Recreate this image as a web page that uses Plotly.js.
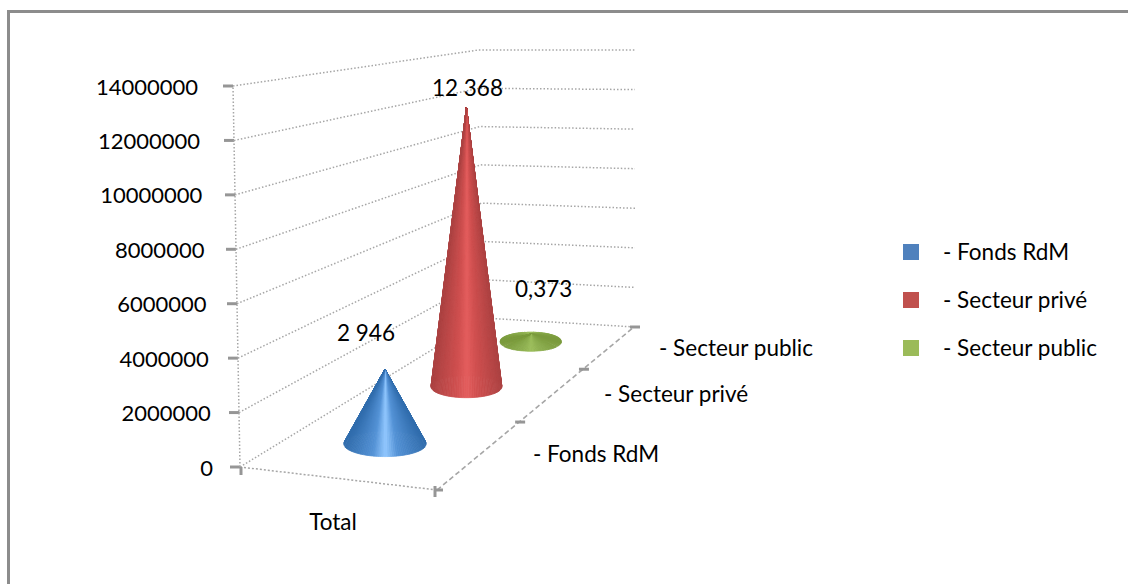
<!DOCTYPE html>
<html><head><meta charset="utf-8">
<script src="https://cdn.plot.ly/plotly-3.0.1.min.js"></script>
<style>html,body{margin:0;padding:0;background:#fff}#c{width:1128px;height:584px}</style>
</head><body><div id="c"></div>
<script>
// ---- data ----
const seriesNames = ['- Fonds RdM', '- Secteur privé', '- Secteur public'];
const seriesValues = [2946000, 12368000, 373000];
const dataLabels = ['2 946', '12 368', '0,373'];
const seriesColors = ['#4F81BD', '#C0504D', '#9BBB59'];
const valueTicks = [0, 2000000, 4000000, 6000000, 8000000, 10000000, 12000000, 14000000];
const categoryName = 'Total';

// ---- page geometry of the 3D box (pixels), not data ----
const W = 1128, H = 584, vMax = 14000000;
const zeroPx = 467, pxPerUnit = 381 / vMax;
const toAxis = p => (zeroPx - p) / pxPerUnit;
const yRange = [toAxis(H), toAxis(0)];
const K = 1.43; // perspective of the depth axis
const persp = w => w * K / (1 + (K - 1) * w);
const lerp = (a, b, t) => a + (b - a) * t;
const floor = {A: [240, 467], B: [437, 490], C: [634, 327], D: [484, 318]};
const backH = {D: 268, C: 277};
const font = 'Lato, Carlito, sans-serif';
const fs = 22.5;

function leftWall(v) { return [240 - 7 * v / vMax, zeroPx - v * pxPerUnit]; }
function midWall(v) { return [484 - 6 * v / vMax, floor.D[1] - backH.D * v / vMax]; }
function rightWall(v) { return [635, floor.C[1] - backH.C * v / vMax]; }

const traces = [];
function line(pts, color, width, dash) {
  traces.push({type: 'scatter', mode: 'lines', hoverinfo: 'skip', showlegend: false,
    x: pts.map(p => p[0]), y: pts.map(p => toAxis(p[1])),
    line: {color, width, dash: dash || 'solid'}});
}
function text(px, py, str, anchor, size) {
  traces.push({type: 'scatter', mode: 'text', hoverinfo: 'skip', showlegend: false,
    x: [px], y: [toAxis(py + 2)], text: [str], textposition: anchor || 'middle center', cliponaxis: false,
    textfont: {family: font, size: size || fs, color: '#000'}});
}

// walls
const DOT = '1.5px,2px', GRID = '#a6a6a6';
valueTicks.forEach(v => {
  line([leftWall(v), midWall(v), rightWall(v)], GRID, 1.5, DOT);
  const l = leftWall(v);
  line([[l[0] - 10, l[1]], [l[0], l[1]]], '#969696', 3);
  text(213 - 15 * v / vMax, l[1] + 1, String(v), 'middle left', 22);
});
line([leftWall(0), leftWall(vMax)], GRID, 1.5, DOT);
// floor edges and their ticks
line([floor.A, floor.B], GRID, 1.5, '2px,2px');
line([floor.B, floor.C], GRID, 1.6, '5px,3px');
line([[241, 467], [241, 475]], '#969696', 3);
line([[435, 486], [435, 497]], '#969696', 3);
line([[435, 490], [443, 490]], '#969696', 3);
[1, 2, 3].forEach(i => {
  const f = persp(i / 3);
  const p = [lerp(floor.B[0], floor.C[0], f), lerp(floor.B[1], floor.C[1], f)];
  line([[p[0] - 4, p[1]], [p[0] + 6, p[1]]], '#969696', 3);
});

// cones
function mix(c1, c2, t) { return 'rgb(' + c1.map((c, i) => Math.round(lerp(c, c2[i], t))).join(',') + ')'; }
const shades = [
  {edge: [48, 108, 172], mid: [84, 146, 214], high: [146, 200, 255]},
  {edge: [172, 66, 66], mid: [208, 80, 80], high: [228, 94, 94]},
  {edge: [122, 154, 60], mid: [140, 174, 78], high: [156, 190, 92]}
];
const labelOffsets = [[-19, -36], [1, -19], [13, -45]];
seriesValues.forEach((v, i) => {
  const f = persp((i + 0.5) / 3);
  const cx = lerp((floor.A[0] + floor.B[0]) / 2, (floor.D[0] + floor.C[0]) / 2, f) - lerp(3, 1, f);
  const cy = lerp((floor.A[1] + floor.B[1]) / 2, (floor.D[1] + floor.C[1]) / 2, f);
  const s = lerp(27e-6, 19.5e-6, f);
  const rx = 2.1 * s * 1e6 - 12, ry = rx * 0.31;
  const ax = cx, ay = cy - v * s;
  const N = 60, sh = shades[i];
  // back half first, front half on top
  const order = [];
  for (let j = N; j < 2 * N; j++) order.push(j);
  for (let j = 0; j < N; j++) order.push(j);
  order.forEach(j => {
    const t0 = j / N * Math.PI, t1 = (j + 1) / N * Math.PI;
    const tm = Math.abs(Math.cos((t0 + t1) / 2));
    const col = tm < 0.3 ? mix(sh.high, sh.mid, tm / 0.3) : mix(sh.mid, sh.edge, (tm - 0.3) / 0.7);
    const pts = [[ax, ay], [cx + rx * Math.cos(t0), cy + ry * Math.sin(t0)], [cx + rx * Math.cos(t1), cy + ry * Math.sin(t1)], [ax, ay]];
    traces.push({type: 'scatter', mode: 'lines', fill: 'toself', fillcolor: col, hoverinfo: 'skip', showlegend: false,
      x: pts.map(p => p[0]), y: pts.map(p => toAxis(p[1])), line: {color: col, width: 0.8}});
  });
  text(ax + labelOffsets[i][0], ay + labelOffsets[i][1], dataLabels[i]);
});

// axis captions
text(333, 522, categoryName);
text(533, 454, seriesNames[0], 'middle right');
text(604, 394, seriesNames[1], 'middle right');
text(659, 348, seriesNames[2], 'middle right');

// legend
seriesNames.forEach((n, i) => {
  const y = 252 + i * 48;
  traces.push({type: 'scatter', mode: 'markers', hoverinfo: 'skip', showlegend: false,
    x: [911], y: [toAxis(y)], marker: {symbol: 'square', size: 16, color: seriesColors[i], line: {width: 0}}});
  text(943, y, n, 'middle right');
});

Plotly.newPlot('c', traces, {
  width: W, height: H, margin: {l: 0, r: 0, t: 0, b: 0},
  paper_bgcolor: '#fff', plot_bgcolor: '#fff', showlegend: false,
  xaxis: {range: [0, W], visible: false, fixedrange: true},
  yaxis: {range: yRange, visible: false, fixedrange: true},
  shapes: [
    {type: 'line', xref: 'paper', yref: 'paper', x0: 8.5 / W, x1: 8.5 / W, y0: 0, y1: 1 - 11 / H, line: {color: '#8c8c8c', width: 3}},
    {type: 'line', xref: 'paper', yref: 'paper', x0: 7 / W, x1: 1, y0: 1 - 11.5 / H, y1: 1 - 11.5 / H, line: {color: '#8c8c8c', width: 3}}
  ]
}, {displayModeBar: false, staticPlot: true});
</script></body></html>
